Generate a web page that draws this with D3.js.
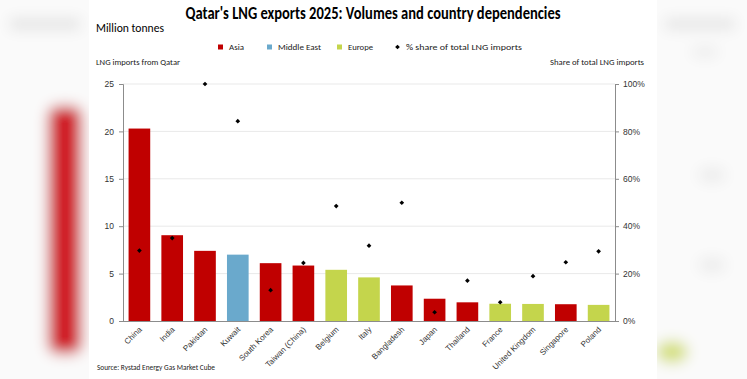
<!DOCTYPE html>
<html>
<head>
<meta charset="utf-8">
<script src="https://cdn.jsdelivr.net/npm/d3@7"></script>
<style>
  body { margin: 0; background: #fff; }
  svg { display: block; font-family: Carlito, "Open Sans", "Liberation Sans", sans-serif; }
</style>
</head>
<body>
<div id="chart"></div>
<script>
// Data
const countries = ["China", "India", "Pakistan", "Kuwait", "South Korea", "Taiwan (China)", "Belgium", "Italy",
  "Bangladesh", "Japan", "Thailand", "France", "United Kingdom", "Singapore", "Poland"];
const regions = ["Asia", "Asia", "Asia", "Middle East", "Asia", "Asia", "Europe", "Europe",
  "Asia", "Asia", "Asia", "Europe", "Europe", "Asia", "Europe"];
const volumes = [20.3, 9.05, 7.4, 7.0, 6.1, 5.85, 5.4, 4.6, 3.75, 2.35, 1.97, 1.82, 1.8, 1.77, 1.7];
const shares = [0.297, 0.35, 1.0, 0.843, 0.13, 0.245, 0.485, 0.318, 0.499, 0.037, 0.17, 0.079, 0.189, 0.248, 0.294];
const leftTicks = [0, 5, 10, 15, 20, 25];
const rightTicks = [0, 0.2, 0.4, 0.6, 0.8, 1.0];
const legendItems = ["Asia", "Middle East", "Europe", "% share of total LNG imports"];

const colors = { "Asia": "#c00000", "Middle East": "#6aa9cc", "Europe": "#c4d54c" };

const W = 747, H = 379;
const svg = d3.select("#chart").append("svg").attr("width", W).attr("height", H);

// blurred backdrop behind the card
const defs = svg.append("defs");
defs.append("filter").attr("id", "blur").attr("x", "-50%").attr("y", "-50%").attr("width", "200%").attr("height", "200%")
  .append("feGaussianBlur").attr("stdDeviation", 7);
const bg = svg.append("g").attr("filter", "url(#blur)");
bg.append("rect").attr("x", -20).attr("y", -20).attr("width", W + 40).attr("height", H + 40).attr("fill", "#fafafa");
bg.append("rect").attr("x", 10).attr("y", 18).attr("width", 70).attr("height", 12).attr("fill", "#e4e4e4");
bg.append("rect").attr("x", 48).attr("y", 106).attr("width", 34).attr("height", 248).attr("rx", 10).attr("fill", "#d01f27");
bg.append("rect").attr("x", 665).attr("y", 18).attr("width", 70).attr("height", 12).attr("fill", "#e6e6e6");
bg.append("ellipse").attr("cx", 705).attr("cy", 52).attr("rx", 14).attr("ry", 6).attr("fill", "#ececec");
bg.append("ellipse").attr("cx", 712).attr("cy", 175).attr("rx", 14).attr("ry", 8).attr("fill", "#ececec");
bg.append("ellipse").attr("cx", 712).attr("cy", 265).attr("rx", 14).attr("ry", 8).attr("fill", "#ececec");
bg.append("ellipse").attr("cx", 672).attr("cy", 352).attr("rx", 16).attr("ry", 11).attr("fill", "#d4df7a");

// white card
svg.append("rect").attr("x", 89).attr("y", 0).attr("width", 568).attr("height", H).attr("fill", "#fff");

const margin = { left: 123, right: W - 615, top: 84, bottom: H - 321 };
const x = d3.scaleBand().domain(countries).range([margin.left, W - margin.right])
  .paddingInner(0.34).paddingOuter(0.17);
const y = d3.scaleLinear().domain([0, 25]).range([H - margin.bottom, margin.top]);
const y2 = d3.scaleLinear().domain([0, 1]).range([H - margin.bottom, margin.top]);

// title and labels
svg.append("text").attr("x", 373).attr("y", 19).attr("text-anchor", "middle")
  .attr("font-size", 17).attr("font-weight", "bold").attr("fill", "#000")
  .attr("textLength", 375).attr("lengthAdjust", "spacingAndGlyphs")
  .text("Qatar's LNG exports 2025: Volumes and country dependencies");
svg.append("text").attr("x", 96).attr("y", 32).attr("font-size", 12.5).attr("fill", "#000")
  .attr("textLength", 68).attr("lengthAdjust", "spacingAndGlyphs").text("Million tonnes");
svg.append("text").attr("x", 96).attr("y", 65).attr("font-size", 8.5).attr("fill", "#222")
  .attr("textLength", 84).attr("lengthAdjust", "spacingAndGlyphs").text("LNG imports from Qatar");
svg.append("text").attr("x", 644).attr("y", 65).attr("font-size", 8.5).attr("fill", "#222").attr("text-anchor", "end")
  .attr("textLength", 94).attr("lengthAdjust", "spacingAndGlyphs").text("Share of total LNG imports");

// diamond marker: a square turned 45 degrees
const diamond = d3.symbol(d3.symbolSquare, 11)();

// legend
const legendX = [218, 267, 337, 395];
const legendW = [15, 43, 25, 116];
const legend = svg.append("g");
legendItems.forEach((name, i) => {
  const g = legend.append("g").attr("transform", `translate(${legendX[i]},47)`);
  if (i < 3) {
    g.append("rect").attr("x", 0).attr("y", -2.5).attr("width", 5).attr("height", 5).attr("fill", colors[name]);
  } else {
    g.append("path").attr("d", diamond).attr("transform", "translate(2.5,0) rotate(45)").attr("fill", "#000");
  }
  g.append("text").attr("x", 11).attr("y", 3).attr("font-size", 8.5).attr("fill", "#222")
    .attr("textLength", legendW[i]).attr("lengthAdjust", "spacingAndGlyphs").text(name);
});

// gridlines
svg.append("g").selectAll("line").data(leftTicks.slice(1)).join("line")
  .attr("x1", margin.left).attr("x2", W - margin.right)
  .attr("y1", d => y(d)).attr("y2", d => y(d))
  .attr("stroke", "#e9e9e9").attr("stroke-width", 1);

// bars
svg.append("g").selectAll("rect").data(countries).join("rect")
  .attr("x", d => x(d)).attr("width", x.bandwidth())
  .attr("y", (d, i) => y(volumes[i])).attr("height", (d, i) => y(0) - y(volumes[i]))
  .attr("fill", (d, i) => colors[regions[i]]);

// axes
const leftAxis = svg.append("g").attr("transform", `translate(${margin.left},0)`)
  .call(d3.axisLeft(y).tickValues(leftTicks).tickSize(4).tickPadding(5));
const rightAxis = svg.append("g").attr("transform", `translate(${W - margin.right},0)`)
  .call(d3.axisRight(y2).tickValues(rightTicks).tickSize(4).tickPadding(4).tickFormat(d3.format(".0%")));
[leftAxis, rightAxis].forEach(a => {
  a.select(".domain").attr("stroke", "#8c8c8c");
  a.selectAll(".tick line").attr("stroke", "#8c8c8c");
  a.selectAll(".tick text").attr("font-size", 8.5).attr("fill", "#333").attr("font-family", null);
});

const bottomAxis = svg.append("g").attr("transform", `translate(0,${y(0)})`)
  .call(d3.axisBottom(x).tickSize(0).tickPadding(0));
bottomAxis.select(".domain").attr("stroke", "#8c8c8c").attr("d", `M${margin.left},0.5H${W - margin.right}`);
bottomAxis.selectAll(".tick text")
  .attr("font-size", 8).attr("fill", "#333").attr("font-family", null)
  .attr("text-anchor", "end").attr("dy", 0).attr("y", 0)
  .attr("transform", "translate(3,9) rotate(-45)");

// share markers
svg.append("g").selectAll("path").data(countries).join("path")
  .attr("d", diamond)
  .attr("transform", (d, i) => `translate(${x(d) + x.bandwidth() / 2},${y2(shares[i])}) rotate(45)`)
  .attr("fill", "#000");

// source
svg.append("text").attr("x", 97).attr("y", 370).attr("font-size", 7.5).attr("fill", "#222")
  .attr("textLength", 118).attr("lengthAdjust", "spacingAndGlyphs").text("Source: Rystad Energy Gas Market Cube");
</script>
</body>
</html>
